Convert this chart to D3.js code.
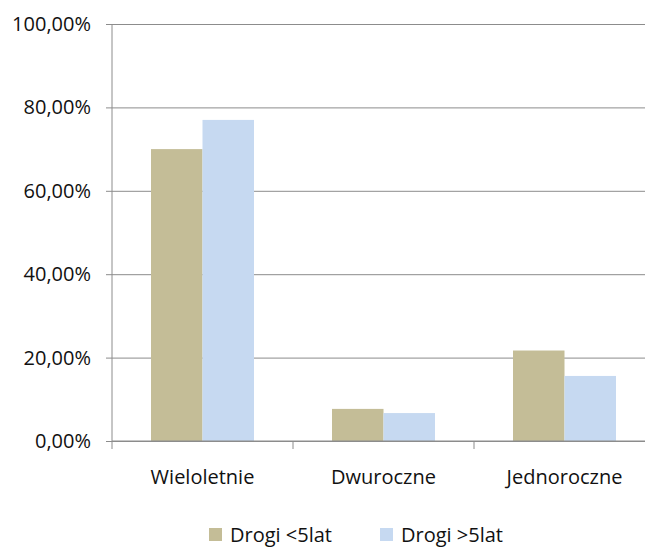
<!DOCTYPE html>
<html>
<head>
<meta charset="utf-8">
<script src="https://cdn.jsdelivr.net/npm/d3@7"></script>
<style>
body { margin: 0; background: #fff; }
text { font-family: "Liberation Sans Narrow", "Open Sans", sans-serif; fill: #111; }
</style>
</head>
<body>
<div class="chart"></div>
<script>
// data
const categories = ['Wieloletnie', 'Dwuroczne', 'Jednoroczne'];
const seriesNames = ['Drogi <5lat', 'Drogi >5lat'];
const young = [0.70, 0.077, 0.217];
const old = [0.77, 0.067, 0.156];
const yTicks = [0, 0.2, 0.4, 0.6, 0.8, 1.0];
const colors = ['#c4bd97', '#c6d9f1'];

const W = 645, H = 547;
const margin = {top: 24, left: 112},
    width = 543,
    height = 417;

const svg = d3.select('.chart')
    .append('svg')
    .attr('width', W)
    .attr('height', H);

const g = svg.append('g')
    .attr('transform', 'translate(' + margin.left + ',' + margin.top + ')');

const xScale = d3.scaleBand()
    .domain(categories)
    .range([0, width]);

const xInner = d3.scaleBand()
    .domain(seriesNames)
    .range([0, 103])
    .paddingInner(0);

const yScale = d3.scaleLinear()
    .domain([0, 1])
    .range([height, 0]);

const fmt = d => d3.format('.2f')(d * 100).replace('.', ',') + '%';

// gridlines + y axis
const yAxis = g.append('g')
    .call(d3.axisLeft(yScale).tickValues(yTicks).tickFormat(fmt).tickSize(6).tickPadding(15))
    .call(a => a.select('.domain').remove())
    .call(a => a.selectAll('.tick line').attr('stroke', '#8c8c8c'))
    .call(a => a.selectAll('.tick line').clone()
        .attr('x1', 0)
        .attr('x2', width)
        .attr('stroke', '#8c8c8c'))
    .call(a => a.selectAll('.tick text').attr('font-size', 20).attr('fill', '#111'));

g.append('line')
    .attr('x1', 0).attr('x2', 0)
    .attr('y1', 0).attr('y2', height)
    .attr('stroke', '#8c8c8c');

// bars
const rows = categories.map((c, i) => ({cat: c, vals: [young[i], old[i]]}));

const groups = g.append('g')
    .selectAll('g')
    .data(rows)
    .join('g')
    .attr('transform', d => 'translate(' + (xScale(d.cat) + xScale.bandwidth() / 2 - 51.5) + ',0)');

groups.selectAll('rect')
    .data(d => d.vals.map((v, j) => ({name: seriesNames[j], v: v, j: j})))
    .join('rect')
    .attr('x', d => xInner(d.name))
    .attr('width', xInner.bandwidth())
    .attr('y', d => yScale(d.v))
    .attr('height', d => height - yScale(d.v))
    .attr('fill', d => colors[d.j]);

// x axis
const xAxis = g.append('g')
    .attr('transform', 'translate(0,' + height + ')');

xAxis.append('line')
    .attr('x1', 0).attr('x2', width)
    .attr('stroke', '#8c8c8c');

xAxis.selectAll('.xt')
    .data(d3.range(categories.length + 1))
    .join('line')
    .attr('x1', i => i * xScale.step())
    .attr('x2', i => i * xScale.step())
    .attr('y1', 0).attr('y2', 8)
    .attr('stroke', '#8c8c8c');

xAxis.selectAll('text')
    .data(categories)
    .join('text')
    .attr('x', d => xScale(d) + xScale.bandwidth() / 2)
    .attr('y', 43)
    .attr('text-anchor', 'middle')
    .attr('font-size', 20)
    .text(d => d);

// legend
const legendX = [209, 380];
const legend = svg.append('g')
    .selectAll('g')
    .data(seriesNames)
    .join('g')
    .attr('transform', (d, i) => 'translate(' + legendX[i] + ',528)');

legend.append('rect')
    .attr('width', 13)
    .attr('height', 13)
    .attr('fill', (d, i) => colors[i]);

legend.append('text')
    .attr('x', 21)
    .attr('y', 14)
    .attr('font-size', 20)
    .text(d => d);
</script>
</body>
</html>
